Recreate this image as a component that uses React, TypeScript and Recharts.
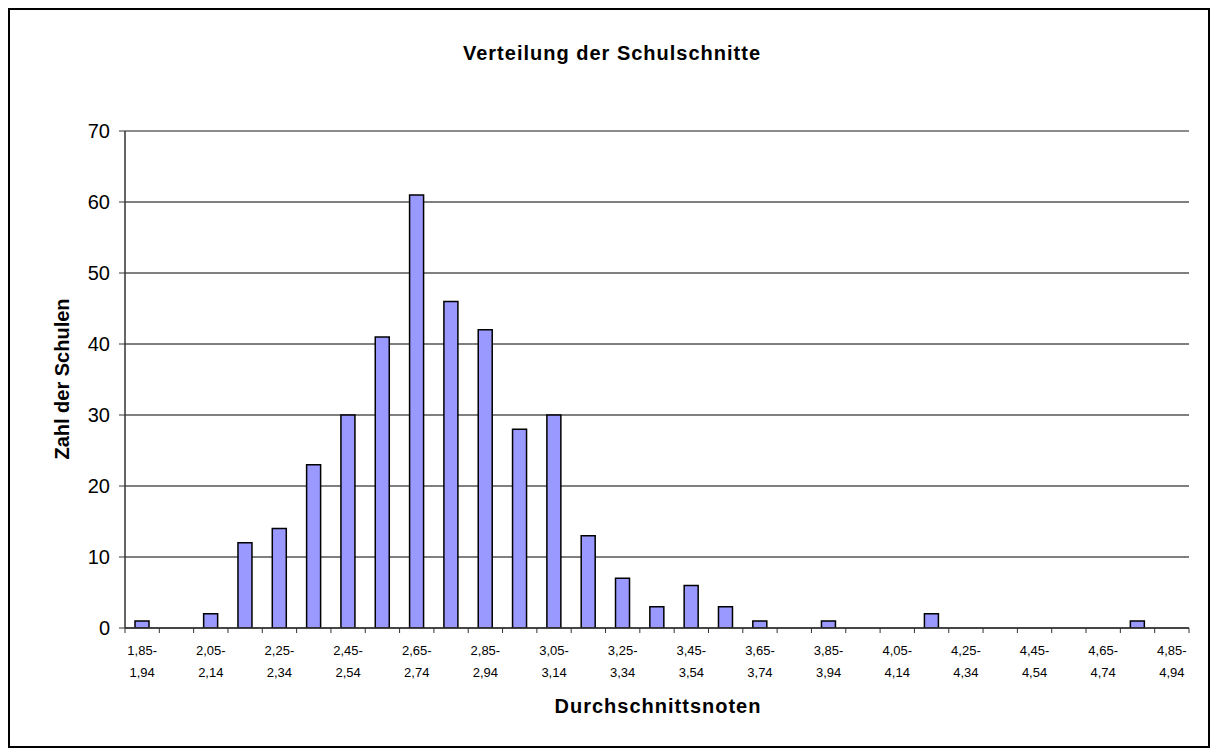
import { BarChart, Bar, XAxis, YAxis, CartesianGrid, ReferenceLine } from "recharts";

const LOWER = [
  "1,85", "1,95", "2,05", "2,15", "2,25", "2,35", "2,45", "2,55", "2,65", "2,75", "2,85",
  "2,95", "3,05", "3,15", "3,25", "3,35", "3,45", "3,55", "3,65", "3,75", "3,85",
  "3,95", "4,05", "4,15", "4,25", "4,35", "4,45", "4,55", "4,65", "4,75", "4,85",
];
const UPPER = [
  "1,94", "2,04", "2,14", "2,24", "2,34", "2,44", "2,54", "2,64", "2,74", "2,84", "2,94",
  "3,04", "3,14", "3,24", "3,34", "3,44", "3,54", "3,64", "3,74", "3,84", "3,94",
  "4,04", "4,14", "4,24", "4,34", "4,44", "4,54", "4,64", "4,74", "4,84", "4,94",
];
const COUNTS = [
  1, 0, 2, 12, 14, 23, 30, 41, 61, 46, 42,
  28, 30, 13, 7, 3, 6, 3, 1, 0, 1,
  0, 0, 2, 0, 0, 0, 0, 0, 1, 0,
];
const Y_TICKS = [0, 10, 20, 30, 40, 50, 60, 70];

const FONT = "'Liberation Sans', Arial, sans-serif";
const W = 1198;
const H = 736;
const MARGIN = { top: 121, right: 19, left: 0, bottom: 0 };
const Y_W = 115;
const X_H = 118;
const PLOT_W = W - MARGIN.left - MARGIN.right - Y_W;
const BAND = PLOT_W / LOWER.length;

const data = LOWER.map((lo, i) => ({ name: `${lo}-${UPPER[i]}`, count: COUNTS[i] }));

// ticks sit on the category boundaries, labels on every second category
function CatTick(props: any) {
  const { x, y, index } = props;
  const left = x - BAND / 2;
  const last = index === LOWER.length - 1;
  return (
    <g>
      <line x1={left} x2={left} y1={y} y2={y + 5} stroke="#333" />
      {last && <line x1={x + BAND / 2} x2={x + BAND / 2} y1={y} y2={y + 5} stroke="#333" />}
      {index % 2 === 0 && (
        <text textAnchor="middle" fontSize={13} fill="#000" fontFamily={FONT}>
          <tspan x={x} y={y + 27}>{LOWER[index]}-</tspan>
          <tspan x={x} y={y + 49}>{UPPER[index]}</tspan>
        </text>
      )}
    </g>
  );
}

export default function App() {
  return (
    <div
      style={{
        position: "relative",
        width: 1202,
        height: 740,
        boxSizing: "border-box",
        border: "2px solid #000",
        background: "#fff",
        fontFamily: FONT,
      }}
    >
      <div
        style={{
          position: "absolute",
          left: 3,
          width: W,
          top: 31,
          textAlign: "center",
          fontSize: 20,
          lineHeight: "24px",
          fontWeight: "bold",
          letterSpacing: 1,
        }}
      >
        Verteilung der Schulschnitte
      </div>
      <BarChart width={W} height={H} data={data} margin={MARGIN} barSize={14}>
        <CartesianGrid vertical={false} stroke="#000" />
        <XAxis
          dataKey="name"
          height={X_H}
          interval={0}
          tickSize={0}
          tickMargin={0}
          tickLine={false}
          axisLine={{ stroke: "#333", strokeWidth: 1.5 }}
          tick={CatTick}
        />
        <YAxis
          domain={[0, 70]}
          ticks={Y_TICKS}
          interval={0}
          width={Y_W}
          tickSize={6}
          tickMargin={9}
          allowDataOverflow
          axisLine={{ stroke: "#333", strokeWidth: 1.5 }}
          tickLine={{ stroke: "#333" }}
          tick={{ fontSize: 20, fill: "#000", fontFamily: FONT }}
        />
        <YAxis
          yAxisId="r"
          orientation="right"
          width={0}
          domain={[0, 70]}
          tick={false}
          tickLine={false}
          axisLine={{ stroke: "#8c8c8c", strokeWidth: 2 }}
        />
        <ReferenceLine y={70} stroke="#8c8c8c" strokeWidth={2} />
        <Bar dataKey="count" fill="#9999FF" stroke="#000" strokeWidth={1.5} isAnimationActive={false} />
      </BarChart>
      <div
        style={{
          position: "absolute",
          left: 648,
          top: 684,
          transform: "translateX(-50%)",
          fontSize: 20,
          lineHeight: "24px",
          fontWeight: "bold",
          letterSpacing: 1,
          whiteSpace: "nowrap",
        }}
      >
        Durchschnittsnoten
      </div>
      <div
        style={{
          position: "absolute",
          left: 52,
          top: 369,
          transform: "translate(-50%, -50%) rotate(-90deg)",
          fontSize: 20,
          lineHeight: "24px",
          fontWeight: "bold",
          whiteSpace: "nowrap",
        }}
      >
        Zahl der Schulen
      </div>
    </div>
  );
}
